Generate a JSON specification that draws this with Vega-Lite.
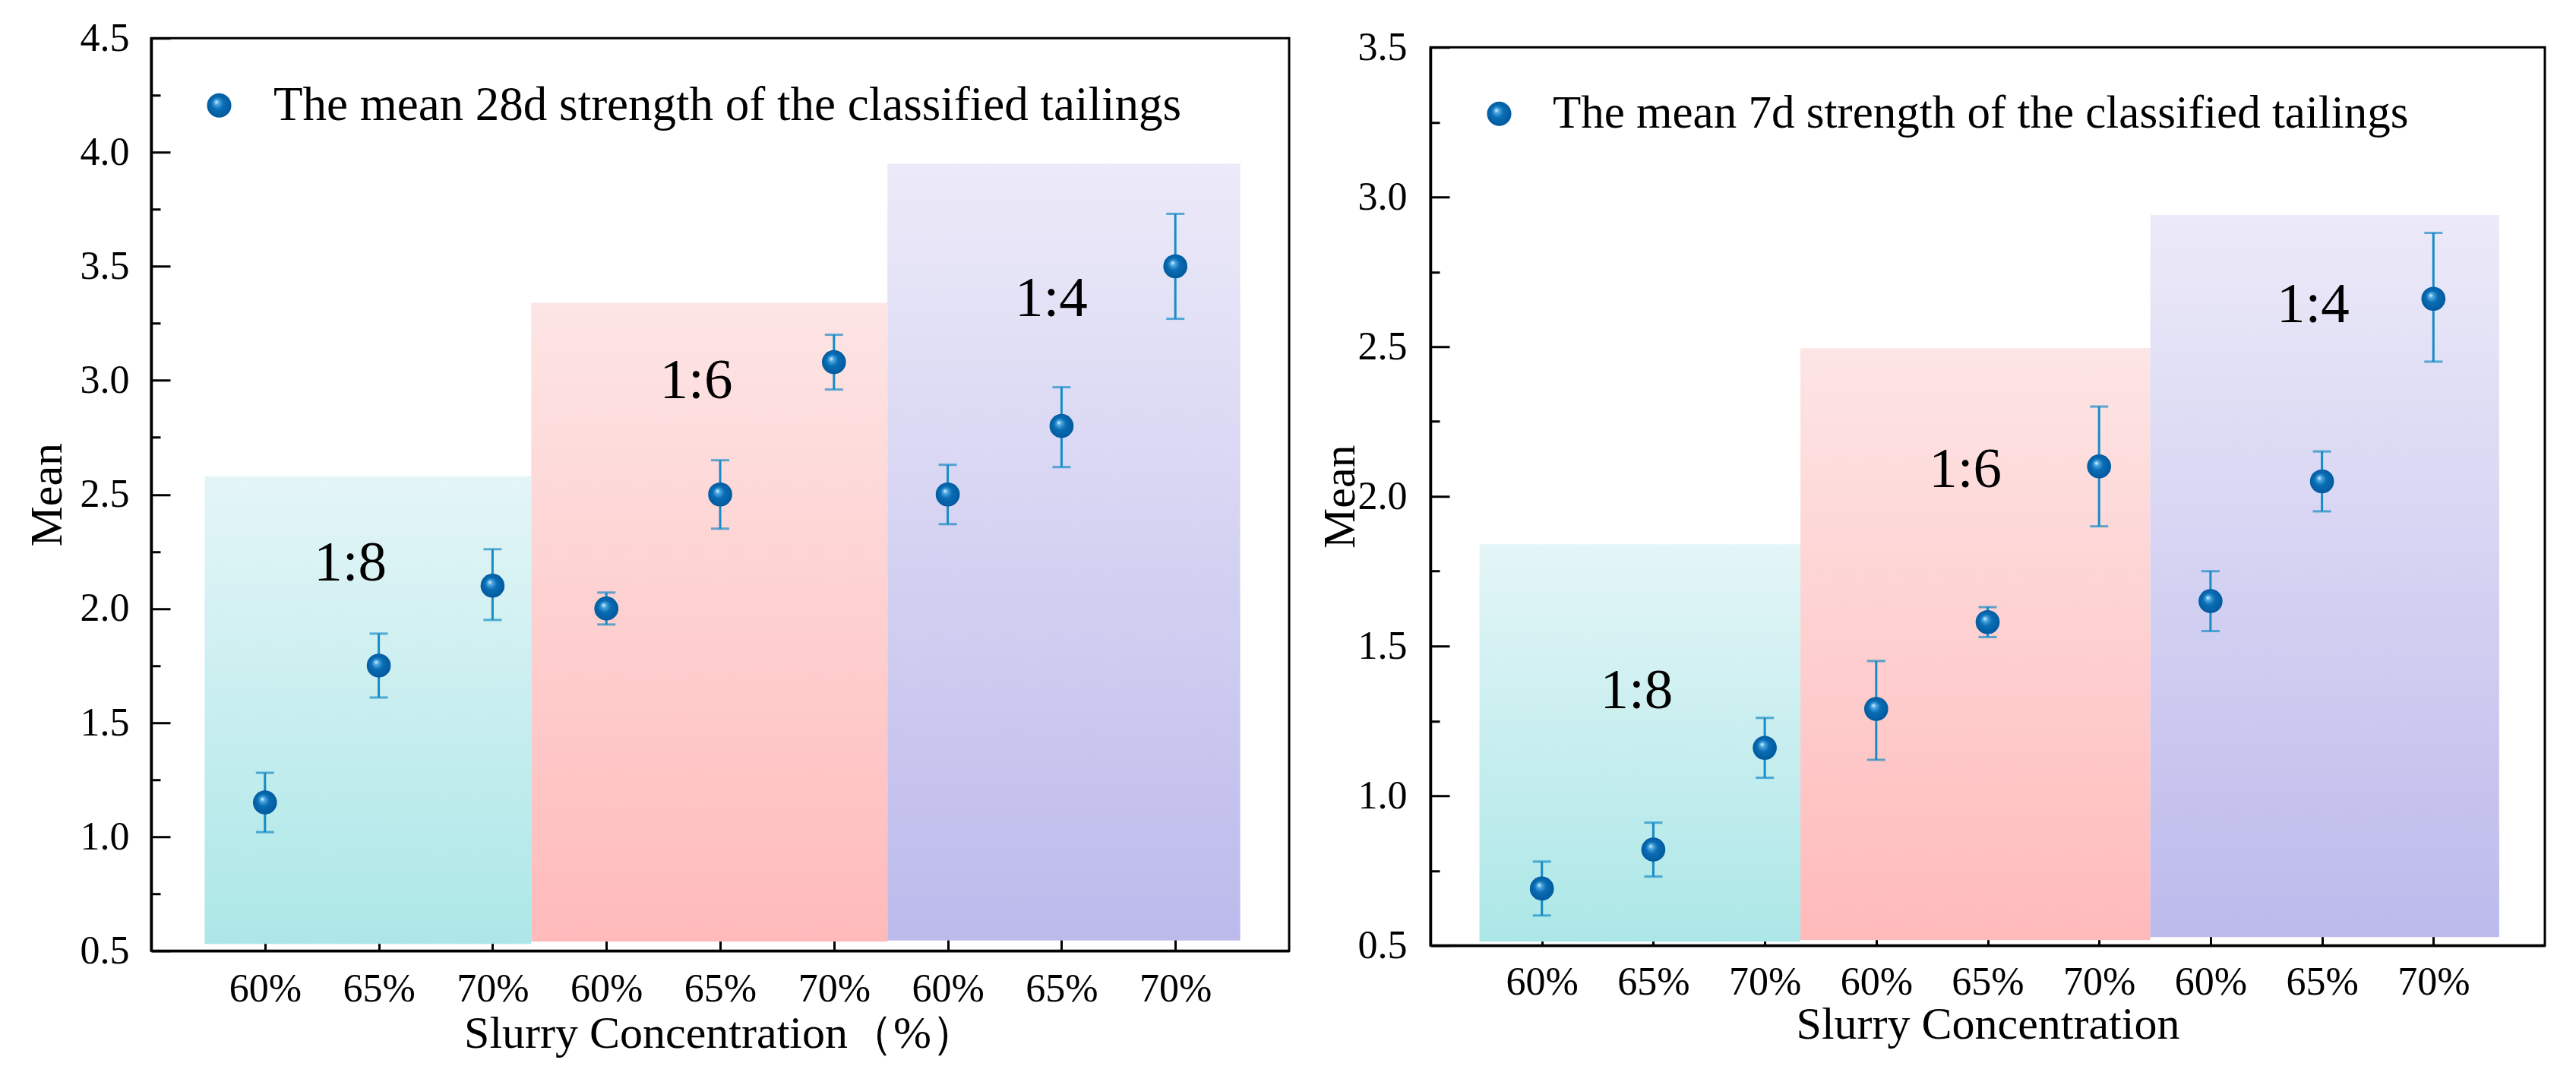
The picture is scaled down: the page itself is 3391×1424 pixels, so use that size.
{
  "$schema": "https://vega.github.io/schema/vega-lite/v6.json",
  "background": "white",
  "padding": {"left": 30, "top": 22, "right": 0, "bottom": 0},
  "spacing": 33,
  "center": true,
  "config": {
    "view": {"stroke": "black", "strokeWidth": 3},
    "axis": {"grid": false, "domainColor": "black", "domainWidth": 3.5, "tickColor": "black", "tickWidth": 3, "labelFont": "Liberation Serif", "labelFontSize": 52, "labelColor": "black", "titleFont": "Liberation Serif", "titleFontSize": 60, "titleFontWeight": "normal", "titleColor": "black"},
    "legend": {"orient": "none", "padding": 0, "title": null, "labelFont": "Liberation Serif", "labelFontSize": 63, "labelColor": "black", "labelOffset": 40, "labelLimit": 3000, "symbolSize": 1024, "symbolType": "circle", "symbolFillColor": "#0a6cb0", "symbolStrokeWidth": 0}
  },
  "resolve": {"scale": {"shape": "independent"}, "legend": {"shape": "independent"}},
  "datasets": {
    "pts28": [
      {"series": "The mean 28d strength of the classified tailings", "ratio": "1:8", "conc": "60%", "pos": 0, "mean": 1.15, "lo": 1.02, "hi": 1.28},
      {"series": "The mean 28d strength of the classified tailings", "ratio": "1:8", "conc": "65%", "pos": 1, "mean": 1.75, "lo": 1.61, "hi": 1.89},
      {"series": "The mean 28d strength of the classified tailings", "ratio": "1:8", "conc": "70%", "pos": 2, "mean": 2.10, "lo": 1.95, "hi": 2.26},
      {"series": "The mean 28d strength of the classified tailings", "ratio": "1:6", "conc": "60%", "pos": 3, "mean": 2.00, "lo": 1.93, "hi": 2.07},
      {"series": "The mean 28d strength of the classified tailings", "ratio": "1:6", "conc": "65%", "pos": 4, "mean": 2.50, "lo": 2.35, "hi": 2.65},
      {"series": "The mean 28d strength of the classified tailings", "ratio": "1:6", "conc": "70%", "pos": 5, "mean": 3.08, "lo": 2.96, "hi": 3.20},
      {"series": "The mean 28d strength of the classified tailings", "ratio": "1:4", "conc": "60%", "pos": 6, "mean": 2.50, "lo": 2.37, "hi": 2.63},
      {"series": "The mean 28d strength of the classified tailings", "ratio": "1:4", "conc": "65%", "pos": 7, "mean": 2.80, "lo": 2.62, "hi": 2.97},
      {"series": "The mean 28d strength of the classified tailings", "ratio": "1:4", "conc": "70%", "pos": 8, "mean": 3.50, "lo": 3.27, "hi": 3.73}
    ],
    "pts7": [
      {"series": "The mean 7d strength of the classified tailings", "ratio": "1:8", "conc": "60%", "pos": 0, "mean": 0.69, "lo": 0.60, "hi": 0.78},
      {"series": "The mean 7d strength of the classified tailings", "ratio": "1:8", "conc": "65%", "pos": 1, "mean": 0.82, "lo": 0.73, "hi": 0.91},
      {"series": "The mean 7d strength of the classified tailings", "ratio": "1:8", "conc": "70%", "pos": 2, "mean": 1.16, "lo": 1.06, "hi": 1.26},
      {"series": "The mean 7d strength of the classified tailings", "ratio": "1:6", "conc": "60%", "pos": 3, "mean": 1.29, "lo": 1.12, "hi": 1.45},
      {"series": "The mean 7d strength of the classified tailings", "ratio": "1:6", "conc": "65%", "pos": 4, "mean": 1.58, "lo": 1.53, "hi": 1.63},
      {"series": "The mean 7d strength of the classified tailings", "ratio": "1:6", "conc": "70%", "pos": 5, "mean": 2.10, "lo": 1.90, "hi": 2.30},
      {"series": "The mean 7d strength of the classified tailings", "ratio": "1:4", "conc": "60%", "pos": 6, "mean": 1.65, "lo": 1.55, "hi": 1.75},
      {"series": "The mean 7d strength of the classified tailings", "ratio": "1:4", "conc": "65%", "pos": 7, "mean": 2.05, "lo": 1.95, "hi": 2.15},
      {"series": "The mean 7d strength of the classified tailings", "ratio": "1:4", "conc": "70%", "pos": 8, "mean": 2.66, "lo": 2.45, "hi": 2.88}
    ],
    "bands28": [
      {"ratio": "1:8", "start": -0.53, "end": 2.34, "bottom": 0.53, "top": 2.58, "lx": 0.75, "ly": 2.2},
      {"ratio": "1:6", "start": 2.34, "end": 5.47, "bottom": 0.54, "top": 3.34, "lx": 3.79, "ly": 3.0},
      {"ratio": "1:4", "start": 5.47, "end": 8.57, "bottom": 0.545, "top": 3.95, "lx": 6.91, "ly": 3.36}
    ],
    "bands7": [
      {"ratio": "1:8", "start": -0.56, "end": 2.32, "bottom": 0.513, "top": 1.84, "lx": 0.85, "ly": 1.35},
      {"ratio": "1:6", "start": 2.32, "end": 5.46, "bottom": 0.518, "top": 2.495, "lx": 3.8, "ly": 2.09},
      {"ratio": "1:4", "start": 5.46, "end": 8.59, "bottom": 0.528, "top": 2.94, "lx": 6.92, "ly": 2.64}
    ]
  },
  "hconcat": [
    {
      "width": 1498,
      "height": 1201,
      "resolve": {"axis": {"y": "independent"}},
      "layer": [
        {
          "data": {"name": "bands28"},
          "transform": [{"filter": "datum.ratio === '1:8'"}],
          "mark": {"type": "rect", "fill": {"gradient": "linear", "x1": 0, "y1": 0, "x2": 0, "y2": 1, "stops": [{"offset": 0, "color": "#e4f5f7"}, {"offset": 1, "color": "#ace7e7"}]}},
          "encoding": {
            "x": {"field": "start", "type": "quantitative", "title": "Slurry Concentration（%）", "scale": {"domain": [-1, 9], "nice": false, "zero": false},
                  "axis": {"values": [0, 1, 2, 3, 4, 5, 6, 7, 8], "labelExpr": "['60%','65%','70%'][datum.value % 3]", "tickSize": -21, "labelPadding": 46, "titlePadding": 4}},
            "x2": {"field": "end"},
            "y": {"field": "bottom", "type": "quantitative", "title": "Mean", "scale": {"domain": [0.5, 4.5], "nice": false, "zero": false},
                  "axis": {"orient": "left", "values": [0.5, 1, 1.5, 2, 2.5, 3, 3.5, 4, 4.5], "format": ".1f", "tickSize": -25, "labelPadding": 54, "titlePadding": 12}},
            "y2": {"field": "top"}
          }
        },
        {
          "data": {"name": "bands28"},
          "transform": [{"filter": "datum.ratio === '1:6'"}],
          "mark": {"type": "rect", "fill": {"gradient": "linear", "x1": 0, "y1": 0, "x2": 0, "y2": 1, "stops": [{"offset": 0, "color": "#fde5e5"}, {"offset": 1, "color": "#ffbaba"}]}},
          "encoding": {
            "x": {"field": "start", "type": "quantitative", "title": "Slurry Concentration（%）", "scale": {"domain": [-1, 9]}},
            "x2": {"field": "end"},
            "y": {"field": "bottom", "type": "quantitative", "scale": {"domain": [0.5, 4.5]}, "axis": {"orient": "left", "values": [0.75, 1.25, 1.75, 2.25, 2.75, 3.25, 3.75, 4.25], "labels": false, "domain": false, "tickSize": -12, "title": null}},
            "y2": {"field": "top"}
          }
        },
        {
          "data": {"name": "bands28"},
          "transform": [{"filter": "datum.ratio === '1:4'"}],
          "mark": {"type": "rect", "fill": {"gradient": "linear", "x1": 0, "y1": 0, "x2": 0, "y2": 1, "stops": [{"offset": 0, "color": "#eceaf8"}, {"offset": 1, "color": "#bcbaeb"}]}},
          "encoding": {
            "x": {"field": "start", "type": "quantitative", "title": "Slurry Concentration（%）", "scale": {"domain": [-1, 9]}},
            "x2": {"field": "end"},
            "y": {"field": "bottom", "type": "quantitative", "scale": {"domain": [0.5, 4.5]}, "axis": null},
            "y2": {"field": "top"}
          }
        },
        {
          "data": {"name": "bands28"},
          "mark": {"type": "text", "font": "Liberation Serif", "fontSize": 75, "color": "black", "align": "center", "baseline": "middle"},
          "encoding": {
            "x": {"field": "lx", "type": "quantitative", "title": "Slurry Concentration（%）", "scale": {"domain": [-1, 9]}},
            "y": {"field": "ly", "type": "quantitative", "scale": {"domain": [0.5, 4.5]}, "axis": null},
            "text": {"field": "ratio"}
          }
        },
        {
          "data": {"name": "pts28"},
          "mark": {"type": "rule", "color": "#178bc6", "strokeWidth": 3},
          "encoding": {
            "x": {"field": "pos", "type": "quantitative", "title": "Slurry Concentration（%）", "scale": {"domain": [-1, 9]}},
            "y": {"field": "lo", "type": "quantitative", "scale": {"domain": [0.5, 4.5]}, "axis": null},
            "y2": {"field": "hi"}
          }
        },
        {
          "data": {"name": "pts28"},
          "mark": {"type": "tick", "orient": "horizontal", "color": "#178bc6", "size": 24, "thickness": 3},
          "encoding": {
            "x": {"field": "pos", "type": "quantitative", "title": "Slurry Concentration（%）", "scale": {"domain": [-1, 9]}},
            "y": {"field": "lo", "type": "quantitative", "scale": {"domain": [0.5, 4.5]}, "axis": null}
          }
        },
        {
          "data": {"name": "pts28"},
          "mark": {"type": "tick", "orient": "horizontal", "color": "#178bc6", "size": 24, "thickness": 3},
          "encoding": {
            "x": {"field": "pos", "type": "quantitative", "title": "Slurry Concentration（%）", "scale": {"domain": [-1, 9]}},
            "y": {"field": "hi", "type": "quantitative", "scale": {"domain": [0.5, 4.5]}, "axis": null}
          }
        },
        {
          "data": {"name": "pts28"},
          "mark": {"type": "point", "filled": true, "size": 1000, "opacity": 1, "strokeWidth": 0,
                   "fill": {"gradient": "radial", "x1": 0.38, "y1": 0.35, "r1": 0, "x2": 0.5, "y2": 0.5, "r2": 0.55, "stops": [{"offset": 0, "color": "#e8f6ff"}, {"offset": 0.18, "color": "#4aa6e0"}, {"offset": 0.45, "color": "#0a6db4"}, {"offset": 1, "color": "#00569a"}]}},
          "encoding": {
            "x": {"field": "pos", "type": "quantitative", "title": "Slurry Concentration（%）", "scale": {"domain": [-1, 9]}},
            "y": {"field": "mean", "type": "quantitative", "scale": {"domain": [0.5, 4.5]}, "axis": null},
            "shape": {"field": "series", "type": "nominal", "scale": {"range": ["circle"]}, "legend": {"legendX": 58, "legendY": 57, "labelFontSize": 63}}
          }
        }
      ]
    },
    {
      "width": 1467,
      "height": 1182,
      "resolve": {"axis": {"y": "independent"}},
      "layer": [
        {
          "data": {"name": "bands7"},
          "transform": [{"filter": "datum.ratio === '1:8'"}],
          "mark": {"type": "rect", "fill": {"gradient": "linear", "x1": 0, "y1": 0, "x2": 0, "y2": 1, "stops": [{"offset": 0, "color": "#e4f5f7"}, {"offset": 1, "color": "#ace7e7"}]}},
          "encoding": {
            "x": {"field": "start", "type": "quantitative", "title": "Slurry Concentration", "scale": {"domain": [-1, 9], "nice": false, "zero": false},
                  "axis": {"values": [0, 1, 2, 3, 4, 5, 6, 7, 8], "labelExpr": "['60%','65%','70%'][datum.value % 3]", "tickSize": -21, "labelPadding": 44, "titlePadding": 1}},
            "x2": {"field": "end"},
            "y": {"field": "bottom", "type": "quantitative", "title": "Mean", "scale": {"domain": [0.5, 3.5], "nice": false, "zero": false},
                  "axis": {"orient": "left", "values": [0.5, 1, 1.5, 2, 2.5, 3, 3.5], "format": ".1f", "tickSize": -25, "labelPadding": 56, "titlePadding": -8}},
            "y2": {"field": "top"}
          }
        },
        {
          "data": {"name": "bands7"},
          "transform": [{"filter": "datum.ratio === '1:6'"}],
          "mark": {"type": "rect", "fill": {"gradient": "linear", "x1": 0, "y1": 0, "x2": 0, "y2": 1, "stops": [{"offset": 0, "color": "#fde5e5"}, {"offset": 1, "color": "#ffbaba"}]}},
          "encoding": {
            "x": {"field": "start", "type": "quantitative", "title": "Slurry Concentration", "scale": {"domain": [-1, 9]}},
            "x2": {"field": "end"},
            "y": {"field": "bottom", "type": "quantitative", "scale": {"domain": [0.5, 3.5]}, "axis": {"orient": "left", "values": [0.75, 1.25, 1.75, 2.25, 2.75, 3.25], "labels": false, "domain": false, "tickSize": -12, "title": null}},
            "y2": {"field": "top"}
          }
        },
        {
          "data": {"name": "bands7"},
          "transform": [{"filter": "datum.ratio === '1:4'"}],
          "mark": {"type": "rect", "fill": {"gradient": "linear", "x1": 0, "y1": 0, "x2": 0, "y2": 1, "stops": [{"offset": 0, "color": "#eceaf8"}, {"offset": 1, "color": "#bcbaeb"}]}},
          "encoding": {
            "x": {"field": "start", "type": "quantitative", "title": "Slurry Concentration", "scale": {"domain": [-1, 9]}},
            "x2": {"field": "end"},
            "y": {"field": "bottom", "type": "quantitative", "scale": {"domain": [0.5, 3.5]}, "axis": null},
            "y2": {"field": "top"}
          }
        },
        {
          "data": {"name": "bands7"},
          "mark": {"type": "text", "font": "Liberation Serif", "fontSize": 75, "color": "black", "align": "center", "baseline": "middle"},
          "encoding": {
            "x": {"field": "lx", "type": "quantitative", "title": "Slurry Concentration", "scale": {"domain": [-1, 9]}},
            "y": {"field": "ly", "type": "quantitative", "scale": {"domain": [0.5, 3.5]}, "axis": null},
            "text": {"field": "ratio"}
          }
        },
        {
          "data": {"name": "pts7"},
          "mark": {"type": "rule", "color": "#178bc6", "strokeWidth": 3},
          "encoding": {
            "x": {"field": "pos", "type": "quantitative", "title": "Slurry Concentration", "scale": {"domain": [-1, 9]}},
            "y": {"field": "lo", "type": "quantitative", "scale": {"domain": [0.5, 3.5]}, "axis": null},
            "y2": {"field": "hi"}
          }
        },
        {
          "data": {"name": "pts7"},
          "mark": {"type": "tick", "orient": "horizontal", "color": "#178bc6", "size": 24, "thickness": 3},
          "encoding": {
            "x": {"field": "pos", "type": "quantitative", "title": "Slurry Concentration", "scale": {"domain": [-1, 9]}},
            "y": {"field": "lo", "type": "quantitative", "scale": {"domain": [0.5, 3.5]}, "axis": null}
          }
        },
        {
          "data": {"name": "pts7"},
          "mark": {"type": "tick", "orient": "horizontal", "color": "#178bc6", "size": 24, "thickness": 3},
          "encoding": {
            "x": {"field": "pos", "type": "quantitative", "title": "Slurry Concentration", "scale": {"domain": [-1, 9]}},
            "y": {"field": "hi", "type": "quantitative", "scale": {"domain": [0.5, 3.5]}, "axis": null}
          }
        },
        {
          "data": {"name": "pts7"},
          "mark": {"type": "point", "filled": true, "size": 1000, "opacity": 1, "strokeWidth": 0,
                   "fill": {"gradient": "radial", "x1": 0.38, "y1": 0.35, "r1": 0, "x2": 0.5, "y2": 0.5, "r2": 0.55, "stops": [{"offset": 0, "color": "#e8f6ff"}, {"offset": 0.18, "color": "#4aa6e0"}, {"offset": 0.45, "color": "#0a6db4"}, {"offset": 1, "color": "#00569a"}]}},
          "encoding": {
            "x": {"field": "pos", "type": "quantitative", "title": "Slurry Concentration", "scale": {"domain": [-1, 9]}},
            "y": {"field": "mean", "type": "quantitative", "scale": {"domain": [0.5, 3.5]}, "axis": null},
            "shape": {"field": "series", "type": "nominal", "scale": {"range": ["circle"]}, "legend": {"legendX": 60, "legendY": 57, "labelFontSize": 61}}
          }
        }
      ]
    }
  ]
}
